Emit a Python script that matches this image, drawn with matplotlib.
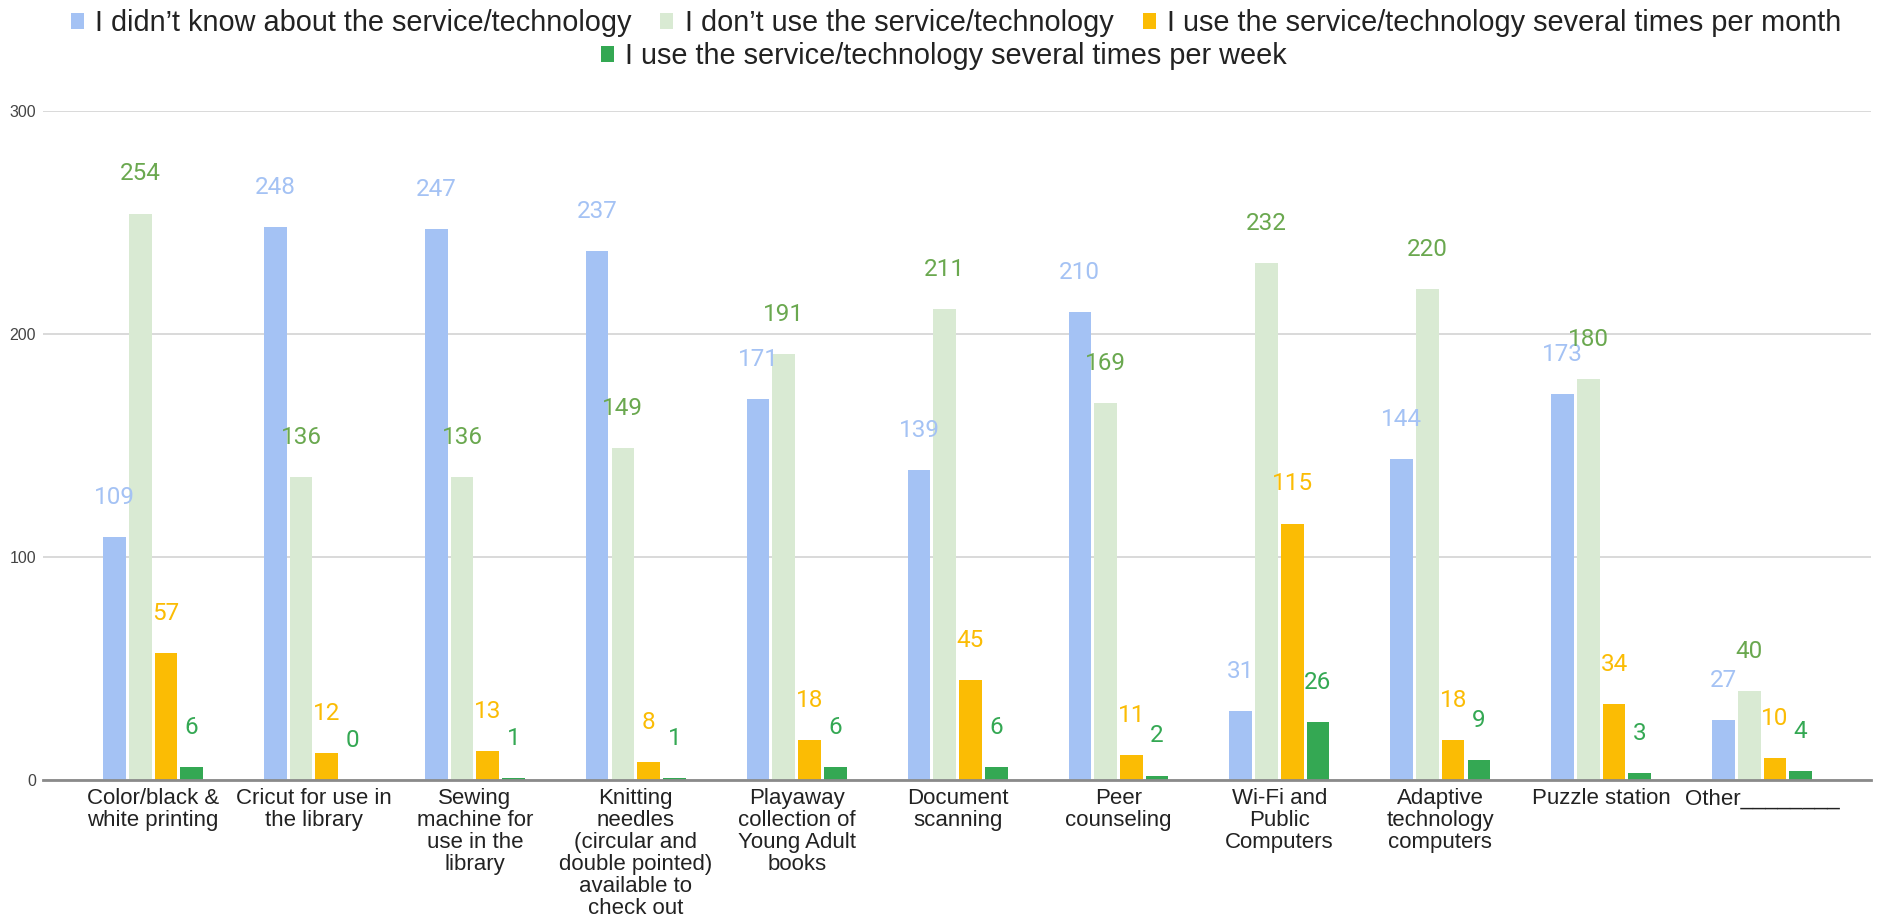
import matplotlib
matplotlib.use("Agg")
import matplotlib.pyplot as plt
from matplotlib.patches import Patch
import numpy as np

categories = [
    "Color/black &\nwhite printing",
    "Cricut for use in\nthe library",
    "Sewing\nmachine for\nuse in the\nlibrary",
    "Knitting\nneedles\n(circular and\ndouble pointed)\navailable to\ncheck out",
    "Playaway\ncollection of\nYoung Adult\nbooks",
    "Document\nscanning",
    "Peer\ncounseling",
    "Wi-Fi and\nPublic\nComputers",
    "Adaptive\ntechnology\ncomputers",
    "Puzzle station",
    "Other________",
]
series_names = [
    "I didn\u2019t know about the service/technology",
    "I don\u2019t use the service/technology",
    "I use the service/technology several times per month",
    "I use the service/technology several times per week",
]
didnt_know = [109, 248, 247, 237, 171, 139, 210, 31, 144, 173, 27]
dont_use = [254, 136, 136, 149, 191, 211, 169, 232, 220, 180, 40]
per_month = [57, 12, 13, 8, 18, 45, 11, 115, 18, 34, 10]
per_week = [6, 0, 1, 1, 6, 6, 2, 26, 9, 3, 4]
yticks = [0, 100, 200, 300]

series = [didnt_know, dont_use, per_month, per_week]
bar_colors = ["#a4c2f4", "#d9ead3", "#fbbc04", "#34a853"]
label_colors = ["#a4c2f4", "#6aa84f", "#fbbc04", "#34a853"]

fig = plt.figure(figsize=(18.77, 9.21), dpi=100)
ax = fig.add_axes([43 / 1877, 1 - 780 / 921, (1871 - 43) / 1877, (780 - 111) / 921])

x = np.arange(len(categories))
slot = 0.16
width = 0.141
for k, (vals, c, lc) in enumerate(zip(series, bar_colors, label_colors)):
    pos = x + (k - 1.5) * slot
    ax.bar(pos, vals, width=width, color=c, zorder=3)
    for px, v in zip(pos, vals):
        ax.annotate(str(v), (px, v), xytext=(0, 28.5), textcoords="offset points",
                    ha="center", va="center", color=lc, fontsize=17.5,
                    family="Roboto", zorder=4)

ax.set_xlim(-0.684, 10.677)
ax.set_ylim(0, 300)
ax.set_yticks(yticks)
ax.set_yticklabels([str(t) for t in yticks], fontsize=11.5, color="#444444",
                   family="Liberation Sans")
ax.set_xticks(x)
ax.set_xticklabels(categories, fontsize=16, color="#222222", family="Liberation Sans",
                   linespacing=1.06)
ax.tick_params(axis="both", length=0)
ax.tick_params(axis="y", pad=5)
ax.tick_params(axis="x", pad=6)
ax.grid(axis="y", color="#d0d0d0", linewidth=1.1, zorder=0)
for s in ["top", "right", "left"]:
    ax.spines[s].set_visible(False)
ax.spines["bottom"].set_color("#8a8a8a")
ax.spines["bottom"].set_linewidth(2)
ax.spines["bottom"].set_zorder(5)

handles = [Patch(facecolor=c, edgecolor="none") for c in bar_colors]
leg_kw = dict(frameon=False, handlelength=0.45, handleheight=0.5, handletextpad=0.4,
              columnspacing=1.0, borderpad=0, borderaxespad=0,
              prop={"family": "Liberation Sans", "size": 20.8}, labelcolor="#222222")
leg1 = fig.legend(handles[:3], series_names[:3], loc="center", ncol=3,
                  bbox_to_anchor=(956 / 1877, 1 - 23 / 921), **leg_kw)
leg2 = fig.legend(handles[3:], series_names[3:], loc="center", ncol=1,
                  bbox_to_anchor=(944 / 1877, 1 - 56 / 921), **leg_kw)

fig.savefig("out.png", dpi=100, facecolor="white")
